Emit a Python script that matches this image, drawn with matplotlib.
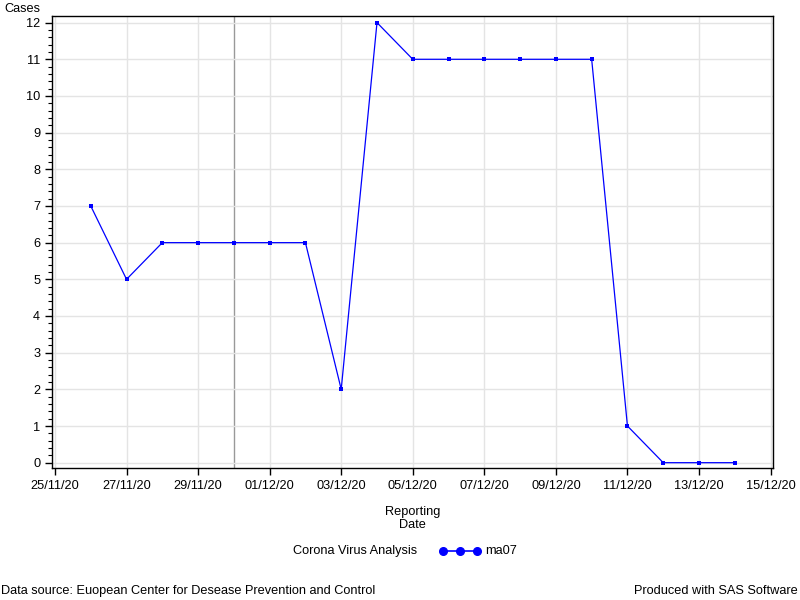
import numpy as np
import pandas as pd
import matplotlib
matplotlib.use('Agg')
import matplotlib.pyplot as plt
import matplotlib.dates as mdates
from matplotlib.ticker import MultipleLocator
from matplotlib.lines import Line2D

plt.rcParams['font.family'] = ['Liberation Sans', 'DejaVu Sans']

# data
dates = pd.date_range('2020-11-26', '2020-12-14', freq='D')
ma07 = [7, 5, 6, 6, 6, 6, 6, 2, 12, 11, 11, 11, 11, 11, 11, 1, 0, 0, 0]
ref_date = pd.Timestamp('2020-11-30')
tick_dates = pd.date_range('2020-11-25', '2020-12-15', freq='2D')

fs = 9.2

fig = plt.figure(figsize=(8, 6), dpi=100)
ax = fig.add_axes([0.065, 0.22, 0.901, 0.7533])

ax.grid(True, color='#e4e4e4', linewidth=1, zorder=0)
ax.axvline(ref_date, color='#999999', linewidth=1, zorder=1)
ax.plot(dates, ma07, color='#0000ff', linewidth=0.9, marker='s', markersize=2.6,
        markeredgewidth=0, zorder=3)

ax.set_xlim(pd.Timestamp('2020-11-25') - pd.Timedelta(hours=2),
            pd.Timestamp('2020-12-15') + pd.Timedelta(hours=1.5))
ax.set_ylim(-0.145, 12.18)
ax.set_xticks(tick_dates)
ax.xaxis.set_major_formatter(mdates.DateFormatter('%d/%m/%y'))
ax.yaxis.set_major_locator(MultipleLocator(1))
ax.yaxis.set_minor_locator(MultipleLocator(0.2))

ax.tick_params(axis='both', which='major', labelsize=fs, length=5, width=1, color='black')
ax.tick_params(axis='y', which='minor', length=3, width=0.8)
for sp in ax.spines.values():
    sp.set_linewidth(1)

fig.text(0.005, 0.985, 'Cases', fontsize=fs, ha='left', va='center')
fig.text(0.516, 0.136, 'Reporting\nDate', fontsize=fs, ha='center', va='center',
         linespacing=1.2)

# legend
fig.text(0.522, 0.081, 'Corona Virus Analysis', fontsize=fs, ha='right', va='center')
lx = np.array([443, 460, 477]) / 800
fig.add_artist(Line2D(lx, [0.081] * 3, color='#0000ff', linewidth=1.2, marker='o',
                      markersize=5.5, transform=fig.transFigure))
fig.text(0.606, 0.081, 'ma07', fontsize=fs, ha='left', va='center')

fig.text(0.001, 0.015, 'Data source: Euopean Center for Desease Prevention and Control',
         fontsize=fs, ha='left', va='center')
fig.text(0.997, 0.015, 'Produced with SAS Software', fontsize=fs, ha='right', va='center')

fig.savefig('out.png', dpi=100)
